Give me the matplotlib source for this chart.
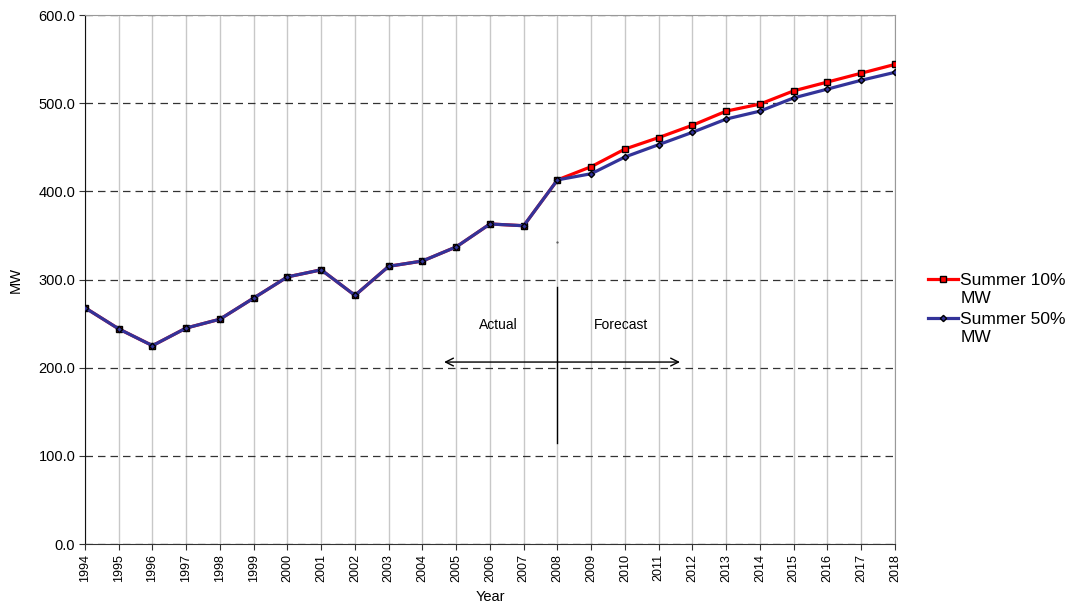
import matplotlib
matplotlib.use("Agg")
import matplotlib.pyplot as plt
import numpy as np

plt.rcParams['font.family'] = ['Liberation Sans', 'DejaVu Sans']

# Peak demand history (1994-2008) and forecast (2009-2018), MW
years = list(range(1994, 2019))
summer_10 = [268, 244, 225, 245, 255, 279, 303, 311, 282, 315, 321, 337, 363, 361,
             413, 428, 448, 461, 475, 491, 499, 514, 524, 534, 544]
summer_50 = [268, 244, 225, 245, 255, 279, 303, 311, 282, 315, 321, 337, 363, 361,
             413, 420, 439, 453, 467, 482, 491, 506, 516, 526, 535]
y_ticks = [0, 100, 200, 300, 400, 500, 600]

fig = plt.figure(figsize=(10.73, 6.03), dpi=100)
ax = fig.add_axes([0.0792, 0.0978, 0.7549, 0.8773])

ax.plot(years, summer_10, color='#ff0000', lw=2.3, marker='s', ms=4.8,
        mfc='#ff0000', mec='black', mew=1.0, label='Summer 10%\nMW', zorder=3)
ax.plot(years, summer_50, color='#333399', lw=2.3, marker='D', ms=3.2,
        mfc='#333399', mec='black', mew=1.0, label='Summer 50%\nMW', zorder=4)

ax.set_xlim(1994, 2018)
ax.set_ylim(0, 600)
ax.set_xticks(years)
ax.set_xticklabels([str(y) for y in years], rotation=90, fontsize=9)
ax.set_yticks(y_ticks)
ax.set_yticklabels([f'{v:.1f}' for v in y_ticks], fontsize=10.5)
ax.tick_params(axis='both', length=4, color='#333333', pad=3)
ax.set_xlabel('Year', fontsize=10.5, labelpad=6)
ax.set_ylabel('MW', fontsize=10.5, labelpad=11)

# vertical grid solid grey, horizontal grid dashed black
ax.xaxis.grid(True, color='#c8c8c8', lw=1.0)
ax.yaxis.grid(True, color='#333333', lw=0.9, ls=(0, (6, 4)))
ax.set_axisbelow(True)
for side in ['top', 'right']:
    ax.spines[side].set_color('#999999')
ax.spines['bottom'].set_color('#333333')
ax.spines['left'].set_color('#111111')

# actual / forecast divider
ax.plot([2008, 2008], [114.5, 291.5], color='black', lw=1.0, zorder=2)
ax.plot([2008], [342.5], marker='.', ms=1.2, color='#555555')
ax.annotate('', xy=(2004.64, 206.4), xytext=(2011.63, 206.4),
            arrowprops=dict(arrowstyle='<->', color='black', lw=1.0,
                            mutation_scale=14, shrinkA=0, shrinkB=0))
ax.text(2006.24, 248.4, 'Actual', ha='center', va='center', fontsize=10)
ax.text(2009.88, 248.4, 'Forecast', ha='center', va='center', fontsize=10)

leg = fig.legend(loc='upper left', bbox_to_anchor=(0.857, 0.562), frameon=False,
                 fontsize=12.5, labelspacing=0.3, handlelength=1.7,
                 handletextpad=0.15, borderpad=0)
for t in leg.get_texts():
    t.set_linespacing(1.3)
# keep each legend line level with the first row of its label
for col in leg._legend_handle_box.get_children():
    for row in col.get_children():
        row.align = 'top'

fig.savefig('out.png', dpi=100)
